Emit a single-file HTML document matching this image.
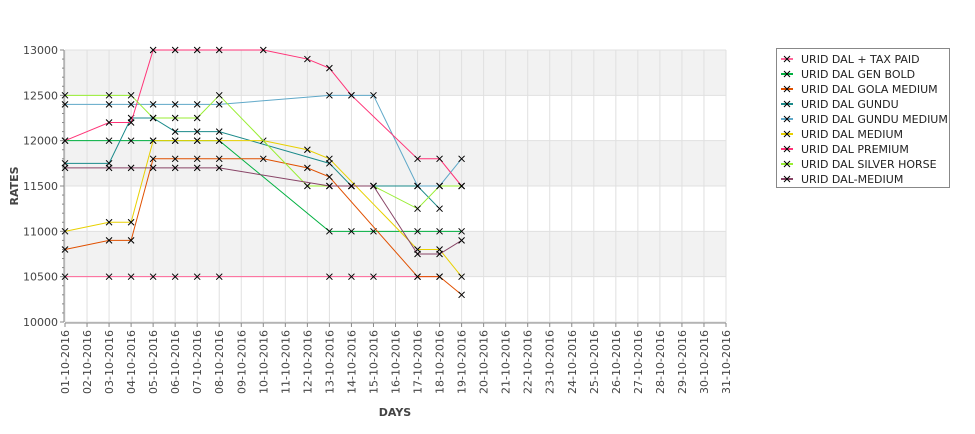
<!DOCTYPE html>
<html><head><meta charset="utf-8"><style>
body{margin:0;background:#fff;font-family:"Liberation Sans","DejaVu Sans",sans-serif;}
svg text{font-family:"DejaVu Sans","Liberation Sans",sans-serif;}
</style></head><body>
<svg id="chart" width="975" height="429" xmlns="http://www.w3.org/2000/svg"></svg>
<script>
const days = [];
for (let d = 1; d <= 31; d++) days.push((d < 10 ? '0' + d : '' + d) + '-10-2016');
const yTicks = [10000, 10500, 11000, 11500, 12000, 12500, 13000];
const seriesNames = ["URID DAL + TAX PAID","URID DAL GEN BOLD","URID DAL GOLA MEDIUM","URID DAL GUNDU","URID DAL GUNDU MEDIUM","URID DAL MEDIUM","URID DAL PREMIUM","URID DAL SILVER HORSE","URID DAL-MEDIUM"];
const seriesColors = ["#ff6699","#00b040","#e05000","#1a8a8a","#5fa8c8","#e8d000","#ff3377","#99ee33","#884466"];
const dataDays = [1,3,4,5,6,7,8,10,12,13,14,15,17,18,19];
const taxPaid     = [10500,10500,10500,10500,10500,10500,10500,null,null,10500,10500,10500,10500,10500,null];
const genBold     = [12000,12000,12000,12000,12000,12000,12000,null,null,11000,11000,11000,11000,11000,11000];
const golaMedium  = [10800,10900,10900,11800,11800,11800,11800,11800,11700,11600,null,null,10500,10500,10300];
const gundu       = [11750,11750,12250,12250,12100,12100,12100,null,null,11750,11500,11500,11500,11250,null];
const gunduMedium = [12400,12400,12400,12400,12400,12400,12400,null,null,12500,12500,12500,11500,11500,11800];
const medium      = [11000,11100,11100,12000,12000,12000,12000,12000,11900,11800,null,null,10800,10800,10500];
const premium     = [12000,12200,12200,13000,13000,13000,13000,13000,12900,12800,12500,null,11800,11800,11500];
const silverHorse = [12500,12500,12500,12250,12250,12250,12500,null,11500,11500,11500,11500,11250,11500,11500];
const dalMedium   = [11700,11700,11700,11700,11700,11700,11700,null,null,11500,11500,11500,10750,10750,10900];
const allSeries = [taxPaid,genBold,golaMedium,gundu,gunduMedium,medium,premium,silverHorse,dalMedium];

const NS = "http://www.w3.org/2000/svg";
const svg = document.getElementById('chart');
const L = 65, R = 726, T = 50, B = 322;
const x = d => L + (d - 1) * (R - L) / 30;
const y = v => B - (v - 10000) * (B - T) / 3000;
function mk(tag, attrs, parent) { const e = document.createElementNS(NS, tag); for (const k in attrs) e.setAttribute(k, attrs[k]); (parent || svg).appendChild(e); return e; }

const plot = mk('g', {});


mk('rect', {x: L, y: T, width: R - L, height: B - T, fill: '#fff'}, plot);
for (let i = 0; i < yTicks.length - 1; i++) {
  if (i % 2 === 1) mk('rect', {x: L, y: y(yTicks[i + 1]), width: R - L, height: y(yTicks[i]) - y(yTicks[i + 1]), fill: '#f2f2f2'}, plot);
}
yTicks.forEach(v => mk('line', {x1: L, x2: R, y1: y(v), y2: y(v), stroke: '#e0e0e0', 'stroke-width': 1}, plot));
days.forEach((d, i) => mk('line', {x1: x(i + 1), x2: x(i + 1), y1: T, y2: B, stroke: '#e0e0e0', 'stroke-width': 1}, plot));

// axes
const yAxis = mk('g', {});


mk('line', {x1: L - 1, x2: L - 1, y1: T, y2: B, stroke: '#888'}, yAxis);
for (let v = 10000; v <= 13000; v += 100) {
  const major = v % 500 === 0;
  mk('line', {x1: L - (major ? 5 : 3), x2: L - 1, y1: y(v), y2: y(v), stroke: '#888'}, yAxis);
}
yTicks.forEach(v => { const t = mk('text', {x: L - 7, y: y(v) + 4, 'text-anchor': 'end', 'font-size': 11, fill: '#444'}, yAxis); t.textContent = v; });
const xAxis = mk('g', {});


mk('line', {x1: L, x2: R, y1: B + 1, y2: B + 1, stroke: '#888'}, xAxis);
days.forEach((d, i) => {
  mk('line', {x1: x(i + 1), x2: x(i + 1), y1: B + 1, y2: B + 5, stroke: '#888'}, xAxis);
  const t = mk('text', {x: 0, y: 0, 'text-anchor': 'end', 'font-size': 11, fill: '#444', transform: `translate(${x(i + 1) + 4},${B + 8}) rotate(-90)`}, xAxis);
  t.textContent = d;
});
const yt = mk('text', {x: 0, y: 0, 'text-anchor': 'middle', 'font-size': 11, 'font-weight': 'bold', fill: '#444', transform: `translate(18,186) rotate(-90)`});
  yt.textContent = 'RATES';
const xt = mk('text', {x: 395, y: 416, 'text-anchor': 'middle', 'font-size': 11, 'font-weight': 'bold', fill: '#444'});
  xt.textContent = 'DAYS';

// series
allSeries.forEach((vals, si) => {
  const g = mk('g', {});
  
  
  const pts = [];
  vals.forEach((v, i) => { if (v !== null) pts.push([x(dataDays[i]), y(v)]); });
  mk('polyline', {points: pts.map(p => p.join(',')).join(' '), fill: 'none', stroke: seriesColors[si], 'stroke-width': 1}, g);
  pts.forEach(p => {
    const m = mk('path', {d: `M${p[0]-3},${p[1]-3}L${p[0]+3},${p[1]+3}M${p[0]-3},${p[1]+3}L${p[0]+3},${p[1]-3}`, stroke: '#000', 'stroke-width': 1}, g);
    
    
  });
});

// legend
const lg = mk('g', {});


mk('rect', {x: 776.5, y: 48.5, width: 173, height: 139, fill: '#fff', stroke: '#888'}, lg);
seriesNames.forEach((n, i) => {
  const e = mk('g', {}, lg);
  
  
  const cy = 59 + i * 15;
  mk('line', {x1: 781, x2: 793, y1: cy, y2: cy, stroke: seriesColors[i], 'stroke-width': 2}, e);
  mk('path', {d: `M784,${cy-3}L790,${cy+3}M784,${cy+3}L790,${cy-3}`, stroke: '#000'}, e);
  const t = mk('text', {x: 801, y: cy + 4, 'font-size': 11, fill: '#222'}, e);
  t.textContent = n;
});
</script>
</body></html>
